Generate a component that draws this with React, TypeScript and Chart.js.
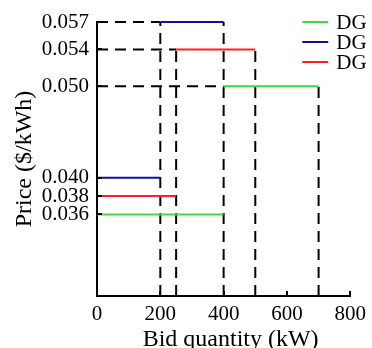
import React, { useEffect, useRef } from 'react';
import { Chart, registerables } from 'chart.js';

Chart.register(...registerables);

// ---- data ----
const seriesLabels = ['DG', 'DG', 'DG'];
const seriesColors = ['#3cdc3c', '#10109c', '#ff1f1f'];
const firstBlockQty = [400, 200, 250]; // kW
const firstBlockPrice = [0.036, 0.04, 0.038]; // $/kWh
const secondBlockQty = [300, 200, 250]; // kW
const secondBlockPrice = [0.05, 0.057, 0.054]; // $/kWh
const xTicks = [0, 200, 400, 600, 800];
const yTicks = [0.036, 0.038, 0.04, 0.05, 0.054, 0.057];
const xMin = 0;
const xMax = 800;
const yMin = 0.0271;
const yMax = 0.057;
const xTitle = 'Bid quantity (kW)';
const yTitle = 'Price ($/kWh)';

const FONT = "'Liberation Serif', 'Times New Roman', serif";

type Pt = { x: number; y: number | null };

function buildDatasets() {
  const sets: any[] = [];
  const verticals = new Map<number, number>();
  const guide: Pt[] = [];
  seriesLabels.forEach((label, i) => {
    const end1 = firstBlockQty[i];
    const end2 = end1 + secondBlockQty[i];
    const p1 = firstBlockPrice[i];
    const p2 = secondBlockPrice[i];
    const solid: Pt[] = [
      { x: 0, y: p1 },
      { x: end1, y: p1 },
      { x: end1, y: null },
      { x: end1, y: p2 },
      { x: end2, y: p2 },
    ];
    sets.push({
      label,
      data: solid,
      borderColor: seriesColors[i],
      backgroundColor: seriesColors[i],
      borderWidth: 2,
      pointRadius: 0,
      spanGaps: false,
      clip: false,
      order: 0,
    });
    // horizontal dashed guide from the price axis to the start of the upper block
    guide.push({ x: 0, y: p2 }, { x: end1, y: p2 }, { x: end1, y: null });
    [end1, end2].forEach((q) => {
      verticals.set(q, Math.max(verticals.get(q) ?? -Infinity, p2));
    });
  });
  // vertical dashed guides rising from the quantity axis (one per quantity)
  verticals.forEach((p, q) => {
    guide.push({ x: q, y: yMin }, { x: q, y: p }, { x: q, y: null });
  });
  sets.push({
    label: 'guides',
    data: guide,
    borderColor: '#000000',
    borderWidth: 2,
    borderDash: [11, 7],
    pointRadius: 0,
    spanGaps: false,
    clip: false,
    order: 1,
  });
  return sets;
}

const overlayPlugin = {
  id: 'overlay',
  afterDraw(chart: any) {
    const ctx = chart.ctx;
    const xs = chart.scales.x;
    const ys = chart.scales.y;
    const ca = chart.chartArea;
    ctx.save();
    ctx.strokeStyle = '#000';
    ctx.lineWidth = 2;
    ctx.setLineDash([]);
    // inward tick marks
    xs.ticks.forEach((t: any) => {
      const px = Math.round(xs.getPixelForValue(t.value));
      ctx.beginPath();
      ctx.moveTo(px, ca.bottom);
      ctx.lineTo(px, ca.bottom - 5);
      ctx.stroke();
    });
    ys.ticks.forEach((t: any) => {
      const py = Math.round(ys.getPixelForValue(t.value));
      ctx.beginPath();
      ctx.moveTo(ca.left, py);
      ctx.lineTo(ca.left + 5, py);
      ctx.stroke();
    });
    // x axis title
    ctx.fillStyle = '#000';
    ctx.font = `24px ${FONT}`;
    ctx.textAlign = 'center';
    ctx.textBaseline = 'alphabetic';
    ctx.fillText(xTitle, (ca.left + ca.right) / 2 + 7, ca.bottom + 50);
    // legend
    ctx.font = `21px ${FONT}`;
    ctx.textBaseline = 'middle';
    ctx.textAlign = 'left';
    seriesLabels.forEach((label, i) => {
      const y = ca.top + i * 20;
      ctx.strokeStyle = seriesColors[i];
      ctx.lineWidth = 2;
      ctx.beginPath();
      ctx.moveTo(ca.right - 48, y);
      ctx.lineTo(ca.right - 22, y);
      ctx.stroke();
      ctx.fillStyle = '#000';
      ctx.fillText(label, ca.right - 14, y + 1);
    });
    ctx.restore();
  },
};

export default function App() {
  const canvasRef = useRef<HTMLCanvasElement | null>(null);

  useEffect(() => {
    const canvas = canvasRef.current;
    if (!canvas) return;
    Chart.defaults.font.family = FONT;
    Chart.defaults.color = '#000';
    const chart = new Chart(canvas, {
      type: 'line',
      data: { datasets: buildDatasets() },
      options: {
        responsive: false,
        animation: false,
        layout: { padding: { left: 0, right: 19, top: 22, bottom: 0 } },
        plugins: {
          legend: { display: false },
          tooltip: { enabled: false },
        },
        scales: {
          x: {
            type: 'linear',
            min: xMin,
            max: xMax,
            afterBuildTicks: (s: any) => {
              s.ticks = xTicks.map((v) => ({ value: v }));
            },
            afterFit: (s: any) => {
              s.height = 52;
            },
            grid: { display: false, drawTicks: false },
            border: { display: true, color: '#000', width: 2 },
            ticks: {
              padding: 6,
              font: { size: 21, family: FONT },
              color: '#000',
              callback: (v: any) => String(v),
            },
            title: { display: false, text: xTitle },
          },
          y: {
            type: 'linear',
            min: yMin,
            max: yMax,
            afterBuildTicks: (s: any) => {
              s.ticks = yTicks.map((v) => ({ value: v }));
            },
            afterFit: (s: any) => {
              s.width = 97;
            },
            grid: { display: false, drawTicks: false },
            border: { display: true, color: '#000', width: 2 },
            ticks: {
              padding: 8,
              autoSkip: false,
              font: { size: 21, family: FONT },
              color: '#000',
              callback: (v: any) => Number(v).toFixed(3),
            },
            title: {
              display: true,
              text: yTitle,
              font: { size: 24, family: FONT, lineHeight: 1.2 },
              color: '#000',
              padding: { top: 10, bottom: 0 },
            },
          },
        },
      },
      plugins: [overlayPlugin],
    });
    return () => chart.destroy();
  }, []);

  return (
    <div style={{ position: 'fixed', left: 0, top: 0, width: 372, height: 348, background: '#fff' }}>
      <canvas ref={canvasRef} width={372} height={348} style={{ display: 'block', width: 372, height: 348 }} />
    </div>
  );
}
